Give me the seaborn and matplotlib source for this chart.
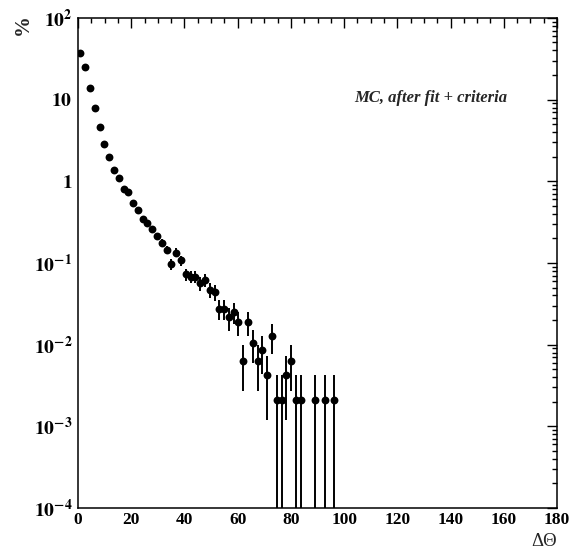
import numpy as np
import pandas as pd
import matplotlib
matplotlib.use('Agg')
import matplotlib.pyplot as plt
import matplotlib.ticker as mticker
import seaborn as sns

# bin centres (1.8 deg bins) and percentages
theta = [0.9, 2.7, 4.5, 6.3, 8.1, 9.9, 11.7, 13.5, 15.3, 17.1,
         18.9, 20.7, 22.5, 24.3, 26.1, 27.9, 29.7, 31.5, 33.3, 35.1,
         36.9, 38.7, 40.5, 42.3, 44.1, 45.9, 47.7, 49.5, 51.3, 53.1,
         54.9, 56.7, 58.5, 60.3, 62.1, 63.9, 65.7, 67.5, 69.3, 71.1,
         72.9, 74.7, 76.5, 78.3, 80.1, 81.9, 83.7, 89.1, 92.7, 96.3]
pct = [36.9, 24.8, 14.0, 7.9, 4.6, 2.86, 1.97, 1.39, 1.10, 0.81,
       0.74, 0.548, 0.445, 0.343, 0.312, 0.258, 0.212, 0.178, 0.145, 0.097,
       0.134, 0.108, 0.0727, 0.068, 0.068, 0.0565, 0.062, 0.0468, 0.0442, 0.0277,
       0.0277, 0.0215, 0.025, 0.019, 0.0063, 0.019, 0.0106, 0.0063, 0.0086, 0.0042,
       0.0128, 0.0021, 0.0021, 0.0042, 0.0063, 0.0021, 0.0021, 0.0021, 0.0021, 0.0021]
err = [0.28, 0.23, 0.17, 0.129, 0.098, 0.077, 0.064, 0.054, 0.048, 0.041,
       0.039, 0.034, 0.0306, 0.0268, 0.0256, 0.023, 0.021, 0.0193, 0.0175, 0.0143,
       0.0168, 0.0151, 0.0124, 0.0119, 0.0119, 0.0109, 0.0114, 0.0099, 0.0096, 0.0076,
       0.0076, 0.0067, 0.0072, 0.0063, 0.0036, 0.0063, 0.0047, 0.0036, 0.0042, 0.0030,
       0.0052, 0.0021, 0.0021, 0.0030, 0.0036, 0.0021, 0.0021, 0.0021, 0.0021, 0.0021]

decades = [1e-4, 1e-3, 1e-2, 1e-1, 1, 10, 100]
ylabels = [r'$\mathbf{10^{-4}}$', r'$\mathbf{10^{-3}}$', r'$\mathbf{10^{-2}}$',
           r'$\mathbf{10^{-1}}$', r'$\mathbf{1}$', r'$\mathbf{10}$', r'$\mathbf{10^{2}}$']

df = pd.DataFrame({'theta': theta, 'pct': pct, 'err': err})

sns.set_style('white')
plt.rcParams['mathtext.fontset'] = 'stix'
plt.rcParams['font.family'] = ['Liberation Serif', 'DejaVu Serif']

fig = plt.figure(figsize=(5.84, 5.51), dpi=100)
ax = fig.add_axes([0.1336, 0.078, 0.8202, 0.8895])

ax.set_yscale('log', nonpositive='clip')
ax.errorbar(df['theta'], df['pct'], yerr=df['err'], fmt='none',
            ecolor='black', elinewidth=1.4, capsize=0)
sns.scatterplot(data=df, x='theta', y='pct', ax=ax, color='black',
                marker='o', s=32, edgecolor='black', linewidth=0, legend=False)

ax.set_xlim(0, 180)
ax.set_ylim(1e-4, 1e2)

ax.xaxis.set_major_locator(mticker.MultipleLocator(20))
ax.xaxis.set_minor_locator(mticker.MultipleLocator(5))
ax.set_yticks(decades)
ax.set_yticklabels(ylabels)
ax.yaxis.set_minor_locator(mticker.LogLocator(base=10, subs=np.arange(2, 10)))
ax.yaxis.set_minor_formatter(mticker.NullFormatter())

ax.tick_params(which='both', direction='in', top=True, right=True, colors='black')
ax.tick_params(which='major', length=7, width=1)
ax.tick_params(which='minor', length=3.5, width=1)
ax.tick_params(axis='x', labelsize=12.5, pad=3)
ax.tick_params(axis='y', labelsize=14, pad=4)
for lab in ax.get_xticklabels():
    lab.set_fontweight('bold')

for s in ax.spines.values():
    s.set_color('black')
    s.set_linewidth(1.1)

ax.set_xlabel('')
ax.set_ylabel('')
ax.text(0.577, 0.836, 'MC, after fit + criteria', transform=ax.transAxes,
        fontsize=12, fontweight='bold', fontstyle='italic', ha='left', va='center')
fig.text(0.954, 0.009, 'ΔΘ', fontsize=13.5, ha='right', va='baseline')
fig.text(0.04, 0.955, '%', fontsize=15, fontweight='bold', rotation=90,
         ha='center', va='center')

fig.savefig('out.png', dpi=100)
